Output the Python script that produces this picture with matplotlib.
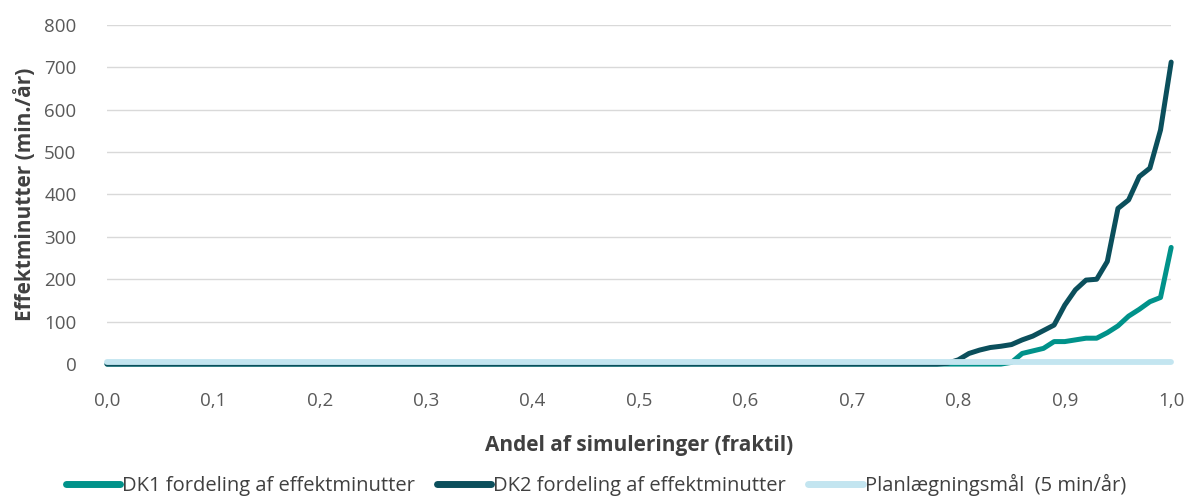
import matplotlib.pyplot as plt
from matplotlib.ticker import FuncFormatter

plt.rcParams['font.family'] = ['Open Sans', 'DejaVu Sans']

# fraktil (x) and effect minutes per year
fraktil = [0.00, 0.78, 0.79, 0.80, 0.81, 0.82, 0.83, 0.84, 0.85, 0.86, 0.87,
           0.88, 0.89, 0.90, 0.91, 0.92, 0.93, 0.94, 0.95, 0.96, 0.97,
           0.98, 0.99, 1.00]
dk1 = [0, 0, 0, 0, 0, 0, 0, 0, 4, 25, 31,
       37, 53, 53, 57, 61, 61, 74, 90, 113, 129,
       147, 157, 275]
dk2 = [0, 0, 2, 10, 25, 33, 39, 42, 46, 57, 66,
       79, 92, 139, 175, 198, 200, 242, 367, 387, 442,
       462, 552, 712]
plan_x = [0.0, 1.0]
plan_y = [5, 5]

labels = ['DK1 fordeling af effektminutter', 'DK2 fordeling af effektminutter',
          'Planlægningsmål  (5 min/år)']
colors = ['#00928A', '#0B4F5C', '#C3E5F0']

fig = plt.figure(figsize=(11.89, 4.96), dpi=100)
ax = fig.add_axes([0.09, 0.266, 0.895, 0.684])

l1, = ax.plot(fraktil, dk1, color=colors[0], lw=3.6, solid_capstyle='round',
              solid_joinstyle='round', zorder=3, clip_on=False)
l2, = ax.plot(fraktil, dk2, color=colors[1], lw=3.6, solid_capstyle='round',
              solid_joinstyle='round', zorder=4, clip_on=False)
l3, = ax.plot(plan_x, plan_y, color=colors[2], lw=4.2, solid_capstyle='round',
              zorder=5, clip_on=False)

ax.set_xlim(0, 1)
ax.set_ylim(0, 800)
ax.set_xticks([i / 10 for i in range(11)])
ax.set_yticks(range(0, 801, 100))
ax.xaxis.set_major_formatter(FuncFormatter(lambda v, p: f'{v:.1f}'.replace('.', ',')))
ax.grid(axis='y', color='#D9D9D9', lw=1)
ax.set_axisbelow(True)
for s in ax.spines.values():
    s.set_visible(False)
ax.tick_params(length=0, labelsize=13.5, colors='#595959')
ax.tick_params(axis='x', pad=20)
ax.tick_params(axis='y', pad=22)

ax.set_xlabel('Andel af simuleringer (fraktil)', fontsize=15, fontweight='bold',
              color='#404040', labelpad=18)
ax.set_ylabel('Effektminutter (min./år)', fontsize=15, fontweight='bold',
              color='#404040', labelpad=6)

leg = fig.legend([l1, l2, l3], labels, loc='center', bbox_to_anchor=(0.501, 0.022),
                 ncol=3, frameon=False, fontsize=14.5, handlelength=2.7,
                 handletextpad=0.1, columnspacing=1.1)
for t in leg.get_texts():
    t.set_color('#404040')
for h in leg.get_lines():
    h.set_linewidth(5)

fig.savefig('out.png', dpi=100)
